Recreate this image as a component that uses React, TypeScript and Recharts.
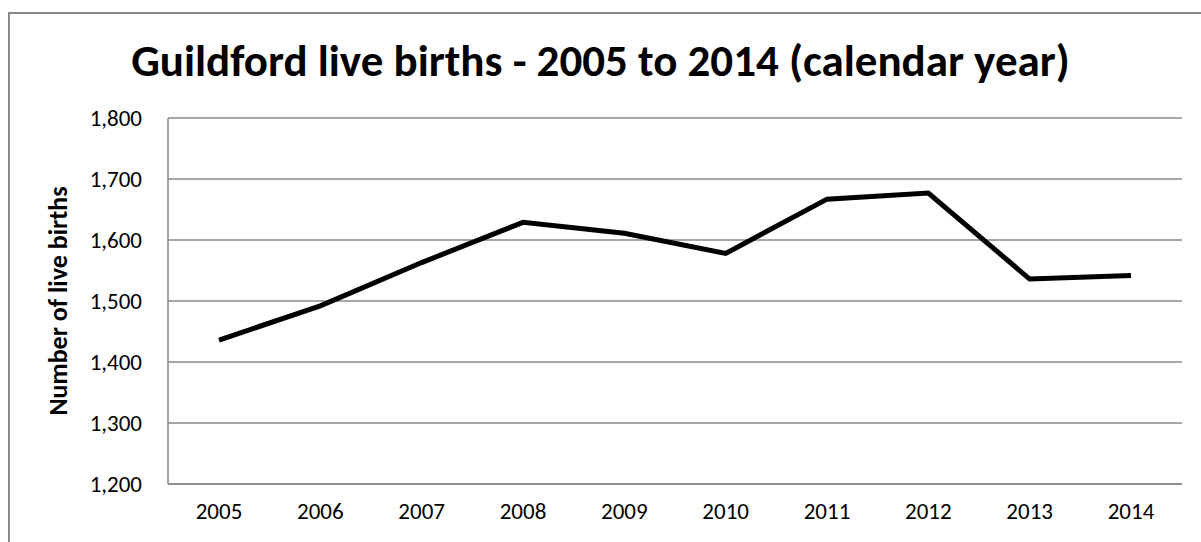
import React from "react";
import { LineChart, Line, XAxis, YAxis, CartesianGrid, Label } from "recharts";

const years = ["2005", "2006", "2007", "2008", "2009", "2010", "2011", "2012", "2013", "2014"];
const births = [1436, 1492, 1563, 1629, 1611, 1578, 1667, 1677, 1536, 1542];
const yTicks = [1200, 1300, 1400, 1500, 1600, 1700, 1800];

const data = years.map((y, i) => ({ year: y, births: births[i] }));

const FONT = "Carlito, Calibri, Lato, sans-serif";

export default function App() {
  return (
    <div style={{ position: "absolute", left: 0, top: 0, width: 1201, height: 542, background: "#fff", overflow: "hidden", fontFamily: FONT }}>
      <div style={{ position: "absolute", left: 8, top: 12, width: 1300, height: 600, borderLeft: "2px solid #888", borderTop: "2px solid #888" }} />
      <div style={{ position: "absolute", left: 4, top: 34, width: 1193, textAlign: "center", fontSize: 45, lineHeight: "54px", fontWeight: 700, color: "#000" }}>
        Guildford live births - 2005 to 2014 (calendar year)
      </div>
      <div style={{ position: "absolute", left: 0, top: 0 }}>
        <LineChart width={1201} height={542} data={data} margin={{ top: 118, right: 19, bottom: 28, left: 100 }}>
          <CartesianGrid vertical={false} stroke="#888" strokeWidth={1.5} />
          <XAxis
            dataKey="year"
            height={30}
            padding={{ left: 51, right: 51 }}
            tickLine={false}
            axisLine={{ stroke: "#888", strokeWidth: 1.5 }}
            tick={{ fill: "#000", fontSize: 23, fontFamily: FONT }}
            tickMargin={13}
          />
          <YAxis
            width={68}
            domain={[1200, 1800]}
            ticks={yTicks}
            tickFormatter={(v: number) => v.toLocaleString("en-US")}
            tickLine={false}
            tickSize={0}
            tickMargin={26}
            axisLine={{ stroke: "#888", strokeWidth: 1.5 }}
            tick={{ fill: "#000", fontSize: 23, fontFamily: FONT }}
          >
            <Label
              value="Number of live births"
              angle={-90}
              position="center"
              dx={-76}
              style={{ fontWeight: 700, fontSize: 26, fill: "#000", fontFamily: FONT }}
            />
          </YAxis>
          <Line
            type="linear"
            dataKey="births"
            stroke="#000"
            strokeWidth={5}
            dot={false}
            isAnimationActive={false}
          />
        </LineChart>
      </div>
    </div>
  );
}
